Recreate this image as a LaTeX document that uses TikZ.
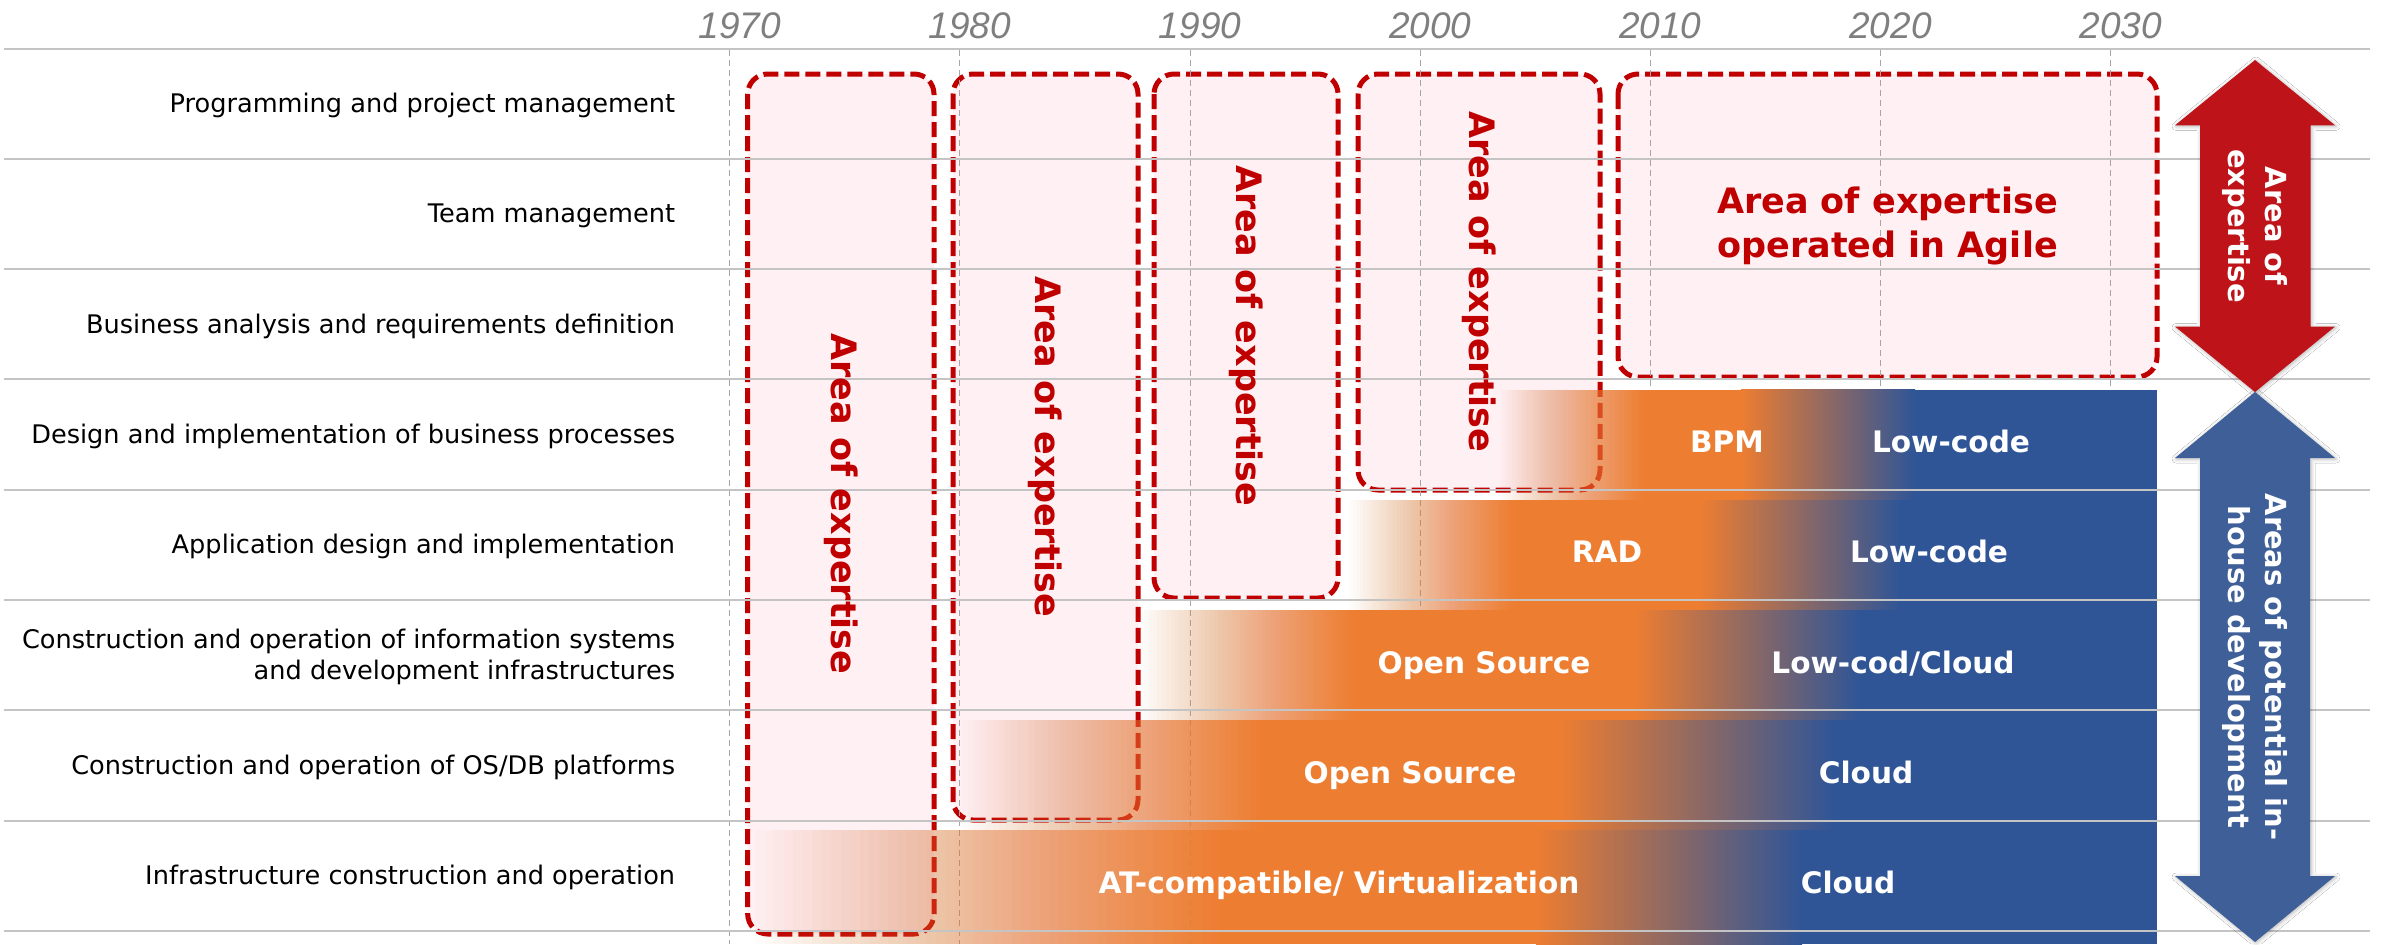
\documentclass[tikz,border=0pt]{standalone}
\usepackage{fontspec}
\setmainfont{DejaVu Sans}
\newfontfamily\yearfont{Liberation Sans}
\usetikzlibrary{shadows.blur}

\definecolor{barorange}{HTML}{ED7D31}
\definecolor{barblue}{HTML}{2F5597}
\definecolor{boxred}{HTML}{C00000}
\definecolor{boxpink}{HTML}{FFF0F3}
\definecolor{gridgray}{HTML}{A6A6A6}
\definecolor{linegray}{HTML}{C4C4C4}
\definecolor{yeargray}{HTML}{7F7F7F}
\definecolor{arrowred}{HTML}{BE1419}
\definecolor{arrowblue}{HTML}{3E5F97}

% gradient bar: top, bottom, fade start, orange start, orange end, blue start
\newcommand\gradbar[6]{%
  \foreach \k in {1,...,50}{%
    \pgfmathsetmacro\op{1/(51-\k)}%
    \pgfmathsetmacro\sx{#3+((\k-1)/50)*(#4-#3)}%
    \fill[barorange, fill opacity=\op] (\sx,#1) rectangle (#4,#2);
  }
  \fill[barorange] (#4-1,#1) rectangle (#5+1,#2);
  \shade[left color=barorange, right color=barblue] (#5,#1) rectangle (#6,#2);
  \fill[barblue] (#6-1,#1) rectangle (2157,#2);
}

\begin{document}
\begin{tikzpicture}[x=0.5pt, y=-0.5pt,
  rowlabel/.style={anchor=base east, inner sep=0pt, font=\fontsize{12.8pt}{15.5pt}\selectfont},
  yearlabel/.style={anchor=base, inner sep=0pt, text=yeargray, font=\yearfont\itshape\fontsize{18.5pt}{20pt}\selectfont},
  expbox/.style={draw=boxred, fill=boxpink, line width=2.5pt, dash pattern=on 7.5pt off 3pt, rounded corners=10pt},
  boxtext/.style={inner sep=0pt, text=boxred, font=\bfseries\fontsize{17.5pt}{22pt}\selectfont, align=center},
  barlabel/.style={anchor=base, inner sep=0pt, text=white, font=\bfseries\fontsize{14.8pt}{18pt}\selectfont},
  arrowtext/.style={inner sep=0pt, text=white, rotate=-90, align=center, font=\bfseries\fontsize{14.5pt}{18.5pt}\selectfont},
  hline/.style={draw=linegray, line width=1pt},
  gridline/.style={draw=gridgray, line width=0.5pt, dash pattern=on 3pt off 2pt},
  arrowshape/.style={blur shadow={shadow xshift=0.5pt, shadow yshift=-0.5pt, shadow opacity=30, shadow blur radius=2pt}}
]
\useasboundingbox (0,0) rectangle (2381,944);
\fill[white] (0,0) rectangle (2381,944);

% areas of expertise
\path[expbox] (747.7,74) rectangle (934,934);
\path[expbox] (953,74) rectangle (1138,820);
\path[expbox] (1154,74) rectangle (1338,598);
\path[expbox] (1358,74) rectangle (1600,490);
\path[expbox] (1618,74) rectangle (2157,377);

% decade grid
\foreach \i in {0,...,6}{
  \draw[gridline] ({729.8+230.15*\i},50) -- ({729.8+230.15*\i},944);
}

% technology bars
\gradbar{389.5}{500}{1500}{1647}{1741}{1915}
\gradbar{500}{610}{1350}{1517}{1700}{1900}
\gradbar{610}{720}{1140}{1358}{1635}{1860}
\gradbar{720}{830}{962}{1268}{1560}{1835}
\gradbar{830}{944}{755}{1230}{1536}{1802}

% row separators
\foreach \k in {0,...,8}{
  \draw[hline] (4,{48.5+110.3*\k}) -- (2370,{48.5+110.3*\k});
}

% double arrows
\fill[arrowred, arrowshape] (2255,60) -- (2335,125.3) -- (2310.7,125.3) -- (2310.7,326.5) -- (2335,326.5)
  -- (2255,392) -- (2175,326.5) -- (2200,326.5) -- (2200,125.3) -- (2175,125.3) -- cycle;
\fill[arrowblue, arrowshape] (2255,392) -- (2335,458) -- (2310,458) -- (2310,876) -- (2335,876)
  -- (2255,942) -- (2175,876) -- (2200,876) -- (2200,458) -- (2175,458) -- cycle;
\node[arrowtext] (aexp) at (2255,226) {Area of\\expertise};
\node[arrowtext] (ainh) at (2255,667) {Areas of potential in-\\house development};

% years
\foreach \yr [count=\i from 0] in {1970,1980,1990,2000,2010,2020,2030}{
  \node[yearlabel] (y\yr) at ({739.8+230.15*\i},38.3) {\yr};
}

% row labels
\node[rowlabel] (r1) at (675.5,112.3) {Programming and project management};
\node[rowlabel] (r2) at (675.5,222.7) {Team management};
\node[rowlabel] (r3) at (675.5,333) {Business analysis and requirements definition};
\node[rowlabel] (r4) at (675.5,443.3) {Design and implementation of business processes};
\node[rowlabel] (r5) at (675.5,553.6) {Application design and implementation};
\node[rowlabel, anchor=east, align=right] (r6) at (675.5,656.8) {Construction and operation of information systems\\and development infrastructures};
\node[rowlabel] (r7) at (675.5,774.3) {Construction and operation of OS/DB platforms};
\node[rowlabel] (r8) at (675.5,884.6) {Infrastructure construction and operation};

% labels inside the areas of expertise
\node[boxtext, rotate=-90] (e1) at (841,504) {Area of expertise};
\node[boxtext, rotate=-90] (e2) at (1045.5,447) {Area of expertise};
\node[boxtext, rotate=-90] (e3) at (1246,336) {Area of expertise};
\node[boxtext, rotate=-90] (e4) at (1479,282) {Area of expertise};
\node[boxtext] (e5) at (1887.5,225.5) {Area of expertise\\operated in Agile};

% bar labels
\node[barlabel] (bpm) at (1727,452.3) {BPM};
\node[barlabel] (lc1) at (1951,452.3) {Low-code};
\node[barlabel] (rad) at (1607,562.8) {RAD};
\node[barlabel] (lc2) at (1929,562.8) {Low-code};
\node[barlabel] (os1) at (1484,673) {Open Source};
\node[barlabel] (lcc) at (1893,673) {Low-cod/Cloud};
\node[barlabel] (os2) at (1410,783.3) {Open Source};
\node[barlabel] (cl1) at (1866,783.3) {Cloud};
\node[barlabel] (atv) at (1339,893.6) {AT-compatible/ Virtualization};
\node[barlabel] (cl2) at (1848,893.6) {Cloud};
\end{tikzpicture}
\end{document}
